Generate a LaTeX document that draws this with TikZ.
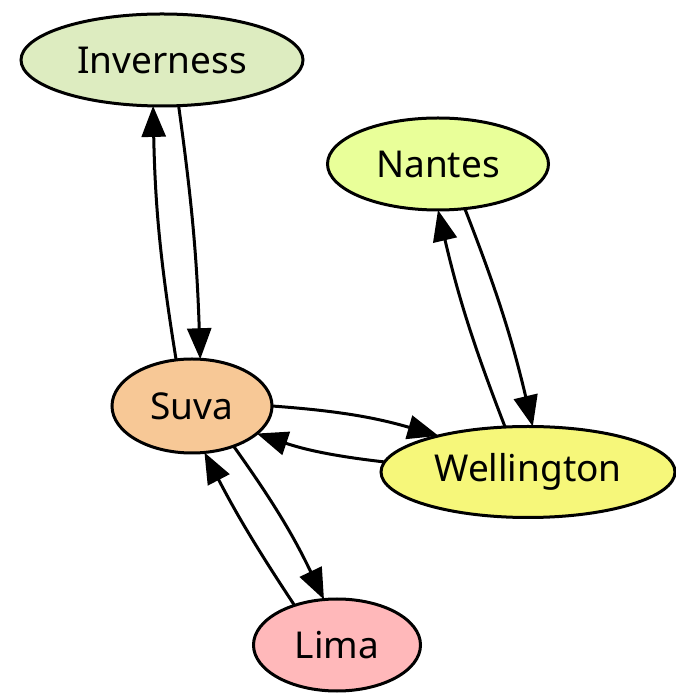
\documentclass[tikz,border=0pt]{standalone}
\usepackage{fontspec}
\setmainfont{Noto Sans}
\usetikzlibrary{shapes.geometric,arrows.meta}

\definecolor{invfill}{RGB}{221,236,192}
\definecolor{nanfill}{RGB}{233,255,153}
\definecolor{suvfill}{RGB}{247,200,150}
\definecolor{welfill}{RGB}{246,247,122}
\definecolor{limfill}{RGB}{255,184,186}

\tikzset{
  city/.style={ellipse, draw=black, line width=3pt, inner sep=0pt, outer sep=0pt,
    font=\fontsize{37}{42}\selectfont},
  link/.style={line width=3pt, -{Triangle[length=31pt,width=24pt]}},
}

\begin{document}
\begin{tikzpicture}[x=1pt,y=1pt]
  \useasboundingbox (0,0) rectangle (676,696);

  \node[city, fill=invfill, minimum width=282pt, minimum height=92pt] (inv) at (162,636) {Inverness};
  \node[city, fill=nanfill, minimum width=221pt, minimum height=92pt] (nan) at (438,532) {Nantes};
  \node[city, fill=suvfill, minimum width=160pt, minimum height=94pt] (suv) at (192,290) {Suva};
  \node[city, fill=welfill, minimum width=294pt, minimum height=91pt] (wel) at (528,224) {Wellington};
  \node[city, fill=limfill, minimum width=167pt, minimum height=92pt] (lim) at (337,51) {Lima};

  % Suva -- Inverness
  \draw[link] (suv.109) to[bend left=4] (inv.259);
  \draw[link] (inv.290) to[bend left=3] (suv.80.5);

  % Nantes -- Wellington
  \draw[link] (wel.117) to[bend left=4] (nan.270);
  \draw[link] (nan.301.5) to[bend left=4] (wel.84);

  % Suva -- Wellington
  \draw[link] (suv.0) to[bend left=6] (wel.158.7);
  \draw[link] (wel.176) to[bend left=6] (suv.337);

  % Suva -- Lima
  \draw[link] (suv.316) to[bend left=5] (lim.106);
  \draw[link] (lim.137) to[bend left=3] (suv.285.5);
\end{tikzpicture}
\end{document}
